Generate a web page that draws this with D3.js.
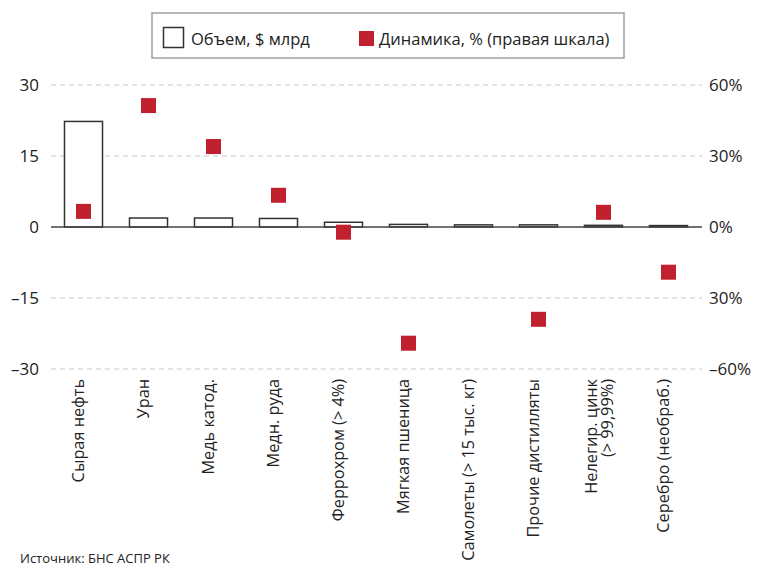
<!DOCTYPE html>
<html><head><meta charset="utf-8">
<script src="https://cdn.jsdelivr.net/npm/d3@7"></script>
<style>
body{margin:0;background:#fff;}
svg{display:block;font-family:"Open Sans",sans-serif;}
</style></head>
<body><svg id="c" width="757" height="568"></svg>
<script>
const categories = [["Сырая нефть"],["Уран"],["Медь катод."],["Медн. руда"],["Феррохром (> 4%)"],["Мягкая пшеница"],["Самолеты (> 15 тыс. кг)"],["Прочие дистилляты"],["Нелегир. цинк","(> 99,99%)"],["Серебро (необраб.)"]];
const volume = [22.3, 1.9, 1.9, 1.8, 1.0, 0.55, 0.45, 0.45, 0.35, 0.3];
const dynamics = [6.6, 51.3, 34, 13.4, -2.2, -49.1, null, -39, 6.2, -19.1];
const leftTicks = [30, 15, 0, -15, -30];
const leftLabels = ["30", "15", "0", "–15", "–30"];
const rightTicks = [60, 30, 0, -30, -60];
const rightLabels = ["60%", "30%", "0%", "30%", "–60%"];
const legendLabels = ["Объем, $ млрд", "Динамика, % (правая шкала)"];
const sourceText = "Источник: БНС АСПР РК";

const svg = d3.select("#c");
const L = 51, R = 701, T = 85, B = 369;
const red = "#c1202f";

const x = d3.scaleBand().domain(d3.range(categories.length)).range([L, R]).paddingInner(0.415).paddingOuter(0.2075);
const yL = d3.scaleLinear().domain([-30, 30]).range([B, T]);
const yR = d3.scaleLinear().domain([-60, 60]).range([B, T]);

// grid
svg.append("g").selectAll("line").data(leftTicks.filter(d => d !== 0)).join("line")
  .attr("x1", L).attr("x2", R + 1).attr("y1", d => yL(d)).attr("y2", d => yL(d))
  .attr("stroke", "#c8c8c8").attr("stroke-width", 1).attr("stroke-dasharray", "5,4");

// left axis
const gl = svg.append("g").attr("transform", `translate(${L},0)`)
  .call(d3.axisLeft(yL).tickValues(leftTicks).tickSize(0).tickPadding(12).tickFormat((d, i) => leftLabels[i]));
gl.select(".domain").remove();
gl.selectAll("text").attr("font-size", 17).attr("fill", "#222").attr("font-family", "Open Sans");

// right axis
const gr = svg.append("g").attr("transform", `translate(${R},0)`)
  .call(d3.axisRight(yR).tickValues(rightTicks).tickSize(0).tickPadding(8).tickFormat((d, i) => rightLabels[i]));
gr.select(".domain").remove();
gr.selectAll("text").attr("font-size", 17).attr("fill", "#222").attr("font-family", "Open Sans");

// bars
svg.append("g").selectAll("rect").data(volume).join("rect")
  .attr("x", (d, i) => x(i)).attr("width", x.bandwidth())
  .attr("y", d => yL(d)).attr("height", d => yL(0) - yL(d))
  .attr("fill", "#fff").attr("stroke", "#333").attr("stroke-width", 1.5);

// zero line
svg.append("line").attr("x1", L).attr("x2", R + 1).attr("y1", yL(0)).attr("y2", yL(0))
  .attr("stroke", "#444").attr("stroke-width", 1.5);

// squares
const sq = 15;
svg.append("g").selectAll("rect").data(dynamics.map((d, i) => ({d, i})).filter(o => o.d !== null)).join("rect")
  .attr("x", o => x(o.i) + x.bandwidth() / 2 - sq / 2).attr("y", o => yR(o.d) - sq / 2)
  .attr("width", sq).attr("height", sq).attr("fill", red);

// category labels
const cl = svg.append("g").selectAll("text").data(categories).join("text")
  .attr("transform", (d, i) => `translate(${x(i) + x.bandwidth() / 2 + (d.length > 1 ? -7 : 0)},379) rotate(-90)`)
  .attr("text-anchor", "end").attr("font-size", 16.3).attr("fill", "#222");
cl.selectAll("tspan").data(d => d).join("tspan")
  .attr("x", 0).attr("dy", (d, i) => i === 0 ? 0 : 16).text(d => d);

// legend
svg.append("rect").attr("x", 152).attr("y", 13).attr("width", 472).attr("height", 45)
  .attr("fill", "none").attr("stroke", "#a0a0a0").attr("stroke-width", 1.5);
svg.append("rect").attr("x", 163.5).attr("y", 27.5).attr("width", 20).attr("height", 20)
  .attr("fill", "#fff").attr("stroke", "#333").attr("stroke-width", 1.5);
svg.append("text").attr("x", 191).attr("y", 45).attr("font-size", 16.5).attr("fill", "#222").text(legendLabels[0]);
svg.append("rect").attr("x", 359).attr("y", 31).attr("width", 15).attr("height", 15).attr("fill", red);
svg.append("text").attr("x", 379).attr("y", 45).attr("font-size", 16.5).attr("fill", "#222").text(legendLabels[1]);

// source
svg.append("text").attr("x", 20).attr("y", 563).attr("font-size", 13).attr("fill", "#222").text(sourceText);
</script></body></html>
